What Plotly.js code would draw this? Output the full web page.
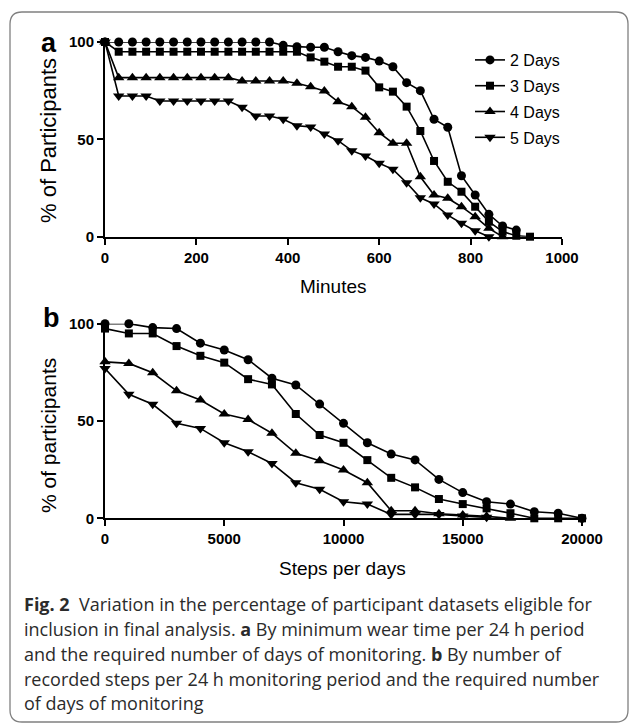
<!DOCTYPE html>
<html>
<head>
<meta charset="utf-8">
<script src="https://cdn.plot.ly/plotly-3.0.1.min.js"></script>
<style>html,body{margin:0;padding:0;background:#fff;}#chart{width:630px;height:726px;}</style>
</head>
<body>
<div id="chart"></div>
<script>
// ---- Panel a: minimum wear time (minutes) ----
const minutes = [0,30,60,90,120,150,180,210,240,270,300,330,360,390,420,450,480,510,540,570,600,630,660,690,720,750,780,810,840,870,900,930];
const a2Days = [100,100,100,100,100,100,100,100,100,100,100,100,100,98.3,97.6,97.3,97.3,95,93,92.1,90.2,87.3,79.1,75,60.3,56.2,31.3,21.4,11.5,5.5,3.4];
const a3Days = [100,95,95,95,95,95,95,95,95,95,95,95,95,95,95,92.1,89.9,87.3,87.3,85.3,76.7,74.5,66.8,54.3,38.9,28.2,23.1,15.4,7.7,2.6,0.5,0];
const a4Days = [100,81.7,81.7,81.7,81.7,81.7,81.7,81.7,81.7,81.7,80,80,80,80,78.8,77,74.8,69.3,66.8,61.3,53.4,48,48,30.8,21.4,19.7,15.4,10.3,4.3,0];
const a5Days = [100,72.3,72.3,72.3,69.7,69.7,69.7,69.7,69.7,69.7,66.5,62,62,60.3,57,56.4,52.7,49.3,44.2,41.4,37.7,34.6,27.7,20,16.8,11.1,6.9,3,0];

// ---- Panel b: steps per day ----
const steps = [0,1000,2000,3000,4000,5000,6000,7000,8000,9000,10000,11000,12000,13000,14000,15000,16000,17000,18000,19000,20000];
const b2Days = [100,100,98,97.5,90,86.5,81.5,72,68.5,58.7,48.8,38.8,33,30,20,13.2,8.5,7.3,3.4,2.6,0];
const b3Days = [97.5,95,95,88.5,83.5,80,71.5,68.8,53.6,42.8,38.8,29.9,20.8,15.9,9.9,7.3,5.1,2.6,0,0,0];
const b4Days = [80.4,79.6,74.8,65.5,60.8,53.6,50.8,43.7,33.4,29.6,24.8,18.3,3.9,3.9,2.3,1.7,1,0];
const b5Days = [77,63.7,58.6,48.8,46.2,38.8,34.2,28.2,18.3,14.9,8.5,7.3,2,2,2,1.2,0.5];

const seriesNames = ["2 Days","3 Days","4 Days","5 Days"];
const symbols = ["circle","square","triangle-up","triangle-down"];
const msizes = [9,8,10,10];

const xTicksA = [0,200,400,600,800,1000];
const xTicksB = [0,5000,10000,15000,20000];
const xTickTextB = ["0","5000","10000","15000","20000"];
const yTicks = [0,50,100];

const captionLines = [
  "<b>Fig. 2</b>  Variation in the percentage of participant datasets eligible for",
  "inclusion in final analysis. <b>a</b> By minimum wear time per 24 h period",
  "and the required number of days of monitoring. <b>b</b> By number of",
  "recorded steps per 24 h monitoring period and the required number",
  "of days of monitoring"
];

const W = 630, H = 726;
const px = v => v / W;
const py = v => 1 - v / H;

const aData = [a2Days, a3Days, a4Days, a5Days];
const bData = [b2Days, b3Days, b4Days, b5Days];

const traces = [];
aData.forEach((ys, i) => {
  traces.push({
    x: minutes.slice(0, ys.length), y: ys, xaxis: 'x', yaxis: 'y',
    type: 'scatter', mode: 'lines+markers', name: seriesNames[i],
    legendgroup: 'g' + i, cliponaxis: false,
    line: {color: '#000', width: 1.6},
    marker: {symbol: symbols[i], size: msizes[i], color: '#000'}
  });
});
bData.forEach((ys, i) => {
  traces.push({
    x: steps.slice(0, ys.length), y: ys, xaxis: 'x2', yaxis: 'y2',
    type: 'scatter', mode: 'lines+markers', name: seriesNames[i],
    legendgroup: 'g' + i, showlegend: false, cliponaxis: false,
    line: {color: '#000', width: 1.6},
    marker: {symbol: symbols[i], size: msizes[i], color: '#000'}
  });
});

const tickFont = {family: 'Liberation Sans, Arial, sans-serif', size: 15, color: '#000', weight: 'bold'};
const axisCommon = {
  showline: true, linecolor: '#000', linewidth: 2, ticks: 'outside', ticklen: 6, tickwidth: 2,
  tickcolor: '#000', showgrid: false, zeroline: false, tickfont: tickFont, fixedrange: true
};

const capFont = {family: 'Open Sans, Lato, sans-serif', size: 18, color: '#2b2b2b'};
const capY = [604, 629, 654, 679, 703];
const annotations = [
  {text: '<b>a</b>', x: px(49), y: py(43), xref: 'paper', yref: 'paper', showarrow: false, xanchor: 'center', yanchor: 'middle', font: {family: 'Liberation Sans, Arial', size: 27, color: '#000'}},
  {text: '<b>b</b>', x: px(51), y: py(318), xref: 'paper', yref: 'paper', showarrow: false, xanchor: 'center', yanchor: 'middle', font: {family: 'Liberation Sans, Arial', size: 27, color: '#000'}},
  {text: 'Minutes', x: px(333), y: py(286), xref: 'paper', yref: 'paper', showarrow: false, xanchor: 'center', yanchor: 'middle', font: {family: 'Liberation Sans, Arial', size: 19, color: '#000'}},
  {text: 'Steps per days', x: px(343), y: py(568), xref: 'paper', yref: 'paper', showarrow: false, xanchor: 'center', yanchor: 'middle', font: {family: 'Liberation Sans, Arial', size: 19, color: '#000'}},
  {text: '% of Participants', x: px(48), y: py(141), xref: 'paper', yref: 'paper', showarrow: false, textangle: -90, xanchor: 'center', yanchor: 'middle', font: {family: 'Liberation Sans, Arial', size: 22, color: '#000'}},
  {text: '% of participants', x: px(48), y: py(436), xref: 'paper', yref: 'paper', showarrow: false, textangle: -90, xanchor: 'center', yanchor: 'middle', font: {family: 'Liberation Sans, Arial', size: 21, color: '#000'}}
];
captionLines.forEach((t, i) => {
  annotations.push({text: t, x: px(22), y: py(capY[i]), xref: 'paper', yref: 'paper', showarrow: false, xanchor: 'left', yanchor: 'middle', font: capFont});
});

// rounded frame
const fx0 = 10, fy0 = 12, fx1 = 628, fy1 = 722, r = 12;
const framePath = `M ${px(fx0+r)},${py(fy0)} L ${px(fx1-r)},${py(fy0)} Q ${px(fx1)},${py(fy0)} ${px(fx1)},${py(fy0+r)} ` +
  `L ${px(fx1)},${py(fy1-r)} Q ${px(fx1)},${py(fy1)} ${px(fx1-r)},${py(fy1)} ` +
  `L ${px(fx0+r)},${py(fy1)} Q ${px(fx0)},${py(fy1)} ${px(fx0)},${py(fy1-r)} ` +
  `L ${px(fx0)},${py(fy0+r)} Q ${px(fx0)},${py(fy0)} ${px(fx0+r)},${py(fy0)} Z`;

const layout = {
  width: W, height: H,
  margin: {l: 0, r: 0, t: 0, b: 0},
  paper_bgcolor: '#fff', plot_bgcolor: 'rgba(0,0,0,0)',
  font: {family: 'Liberation Sans, Arial, sans-serif', color: '#000'},
  xaxis: Object.assign({}, axisCommon, {domain: [px(105), px(562)], range: [0, 1000], tickvals: xTicksA, anchor: 'y'}),
  yaxis: Object.assign({}, axisCommon, {domain: [py(236.7), py(42)], range: [0, 100], tickvals: yTicks, anchor: 'x'}),
  xaxis2: Object.assign({}, axisCommon, {domain: [px(105), px(582)], range: [0, 20000], tickvals: xTicksB, ticktext: xTickTextB, anchor: 'y2'}),
  yaxis2: Object.assign({}, axisCommon, {domain: [py(518.3), py(323.7)], range: [0, 100], tickvals: yTicks, anchor: 'x2'}),
  showlegend: true,
  legend: {
    x: px(470), y: py(43), xanchor: 'left', yanchor: 'top',
    bgcolor: 'rgba(0,0,0,0)', borderwidth: 0,
    font: {family: 'Liberation Sans, Arial', size: 16, color: '#000'},
    tracegroupgap: 2, itemsizing: 'trace'
  },
  annotations: annotations,
  shapes: [{type: 'path', xref: 'paper', yref: 'paper', path: framePath, line: {color: '#808080', width: 1.3}, fillcolor: 'rgba(0,0,0,0)'}]
};

Plotly.newPlot('chart', traces, layout, {displayModeBar: false, staticPlot: true});
</script>
</body>
</html>
